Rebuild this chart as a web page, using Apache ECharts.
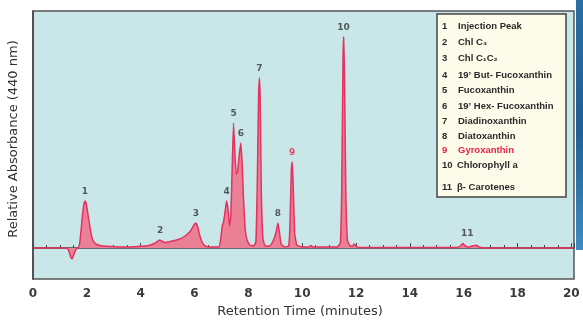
<!DOCTYPE html>
<html>
<head>
<meta charset="utf-8">
<script src="https://cdn.jsdelivr.net/npm/echarts@6/dist/echarts.min.js"></script>
<style>html,body{margin:0;padding:0;background:#fff;}#c{width:583px;height:321px;}</style>
</head>
<body>
<div id="c"></div>
<script>
// Chromatogram trace: retention time (minutes) and relative absorbance
var times = [0,1.25,1.32,1.40,1.45,1.50,1.57,1.63,1.70,1.75,1.80,1.85,1.90,1.94,1.98,2.04,2.10,2.16,2.22,2.30,2.42,2.60,2.90,3.40,3.90,4.30,4.55,4.70,4.78,4.90,5.10,5.40,5.65,5.85,5.98,6.05,6.12,6.20,6.30,6.40,6.55,6.90,6.97,7.03,7.08,7.13,7.19,7.24,7.30,7.35,7.40,7.45,7.50,7.55,7.60,7.65,7.72,7.77,7.82,7.88,7.95,8.05,8.20,8.28,8.33,8.38,8.41,8.44,8.48,8.54,8.62,8.80,8.90,8.98,9.04,9.10,9.15,9.22,9.35,9.50,9.55,9.60,9.63,9.66,9.72,9.80,10.0,10.25,10.32,10.40,11.30,11.42,11.47,11.52,11.54,11.57,11.62,11.68,11.78,11.88,11.93,11.99,12.10,15.75,15.88,15.97,16.07,16.18,16.32,16.45,16.58,16.75,20.1];
var absorbance = [0,0,-2,-9,-11,-8,-3,0,1,8,22,36,45,47,44,34,24,14,8,5,3,2,1.5,1,1.5,2.5,5,8,7,5.5,6.5,8.5,12,17,23,25,21,12,5,2,1,1,8,22,26,35,47,40,22,32,80,125,95,74,76,90,105,85,50,20,8,3,2,6,60,150,170,150,60,10,2,2,6,11,17,25,17,4,1,2,25,80,86,70,15,3,1,1,2.5,1,1,5,60,190,211,180,60,8,2,2,4,2,0.5,0.5,2,4.5,2,1,2,2.8,1,0,0];
// Peak numbers
var peakTimes = [1.93,4.72,6.05,7.19,7.45,7.72,8.41,9.10,9.63,11.54,16.13];
var peakHeights = [47,8,25,47,125,105,170,25,86,211,4.5];
var peakNames = ['1','2','3','4','5','6','7','8','9','10','11'];
// Legend entries
var legendNums = ['1','2','3','4','5','6','7','8','9','10','11'];
var legendNames = ['Injection Peak','Chl C₃','Chl C₁C₂','19\u2019 But- Fucoxanthin','Fucoxanthin','19\u2019 Hex- Fucoxanthin','Diadinoxanthin','Diatoxanthin','Gyroxanthin','Chlorophyll a','\u03B2- Carotenes'];
var xTicks = [0,2,4,6,8,10,12,14,16,18,20];

var trace = times.map(function(t,i){return [t, absorbance[i]];});
var labels = peakTimes.map(function(t,i){
  return {value:[t, peakHeights[i]], label:{color: peakNames[i]==='9' ? '#e8204a' : '#333'}, name: peakNames[i]};
});

var legendYs = [26,42,58,75,90,106,121,136,150,165,187];
var legendEls = [{type:'rect', shape:{x:437,y:14,width:129,height:183}, style:{fill:'#fdfbe9', stroke:'#444', lineWidth:1.5}}];
legendNums.forEach(function(n,i){
  var col = n==='9' ? '#e8204a' : '#2a2a2a';
  legendEls.push({type:'text', x:442, y:legendYs[i], style:{text:n, font:'bold 9.5px "Liberation Sans"', fill:col, verticalAlign:'middle'}});
  legendEls.push({type:'text', x:(n.length>1?457:458), y:legendYs[i], style:{text:legendNames[i], font:'bold 9.5px "Liberation Sans"', fill:col, verticalAlign:'middle'}});
});

var chart = echarts.init(document.getElementById('c'), null, {renderer:'canvas'});
chart.setOption({
  animation:false,
  backgroundColor:'#ffffff',
  grid:{left:33, right:9, top:11, bottom:42, show:true, backgroundColor:'#c9e7e8', borderColor:'#555', borderWidth:1.5},
  xAxis:{type:'value', min:0, max:20.1, interval:2,
    axisLine:{show:true, lineStyle:{color:'#444', width:1.5}},
    axisTick:{show:true, inside:true, length:5, lineStyle:{color:'#444'}},
    minorTick:{show:true, splitNumber:4, length:3, lineStyle:{color:'#444'}},
    splitLine:{show:false},
    axisLabel:{color:'#3a3a3a', fontFamily:'DejaVu Sans', fontWeight:'bold', fontSize:12, margin:9,
      formatter:function(v){return xTicks.indexOf(v)>=0 ? String(v) : '';}}
  },
  yAxis:{type:'value', min:-31, max:237, axisLine:{show:true, lineStyle:{color:'#444', width:1.5}},
    axisTick:{show:false}, axisLabel:{show:false}, splitLine:{show:false}},
  series:[
    {type:'line', data:trace, symbol:'none', smooth:0.1,
      lineStyle:{color:'#e3325f', width:1.5},
      areaStyle:{color:'#ea7f95', opacity:1, origin:0}, z:2},
    {type:'scatter', data:labels, symbolSize:0, z:3,
      label:{show:true, position:'top', distance:5, formatter:function(p){return p.name;}, fontSize:9, fontWeight:'bold', fontFamily:'DejaVu Sans'}}
  ],
  graphic:[
    {type:'rect', shape:{x:576,y:0,width:7,height:250}, style:{fill:new echarts.graphic.LinearGradient(0,0,0,1,[{offset:0,color:'#2a6ea8'},{offset:0.5,color:'#1d5f96'},{offset:1,color:'#3d8cc4'}])}},
    {type:'text', x:14, y:139, rotation:Math.PI/2, style:{text:'Relative Absorbance (440 nm)', font:'500 13px "DejaVu Sans"', fill:'#333', align:'center', verticalAlign:'middle'}},
    {type:'text', x:300, y:312, style:{text:'Retention Time (minutes)', font:'500 13px "DejaVu Sans"', fill:'#333', align:'center', verticalAlign:'middle'}},
    {type:'group', children:legendEls}
  ]
});
</script>
</body>
</html>
